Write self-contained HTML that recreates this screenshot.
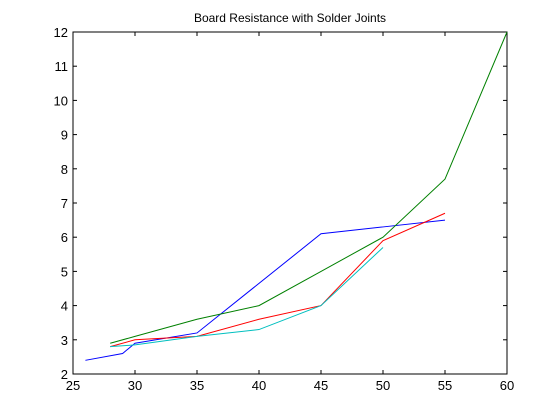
<!DOCTYPE html>
<html><head><meta charset="utf-8"><style>
body{margin:0;background:#fff;width:560px;height:420px;overflow:hidden}
svg{display:block;font-family:"Liberation Sans",Arial,sans-serif}
</style></head><body>
<svg id="chart" width="560" height="420">
<rect width="560" height="420" fill="#fff"/>
<text x="290" y="22" text-anchor="middle" font-size="12">Board Resistance with Solder Joints</text>
<rect x="73" y="32" width="434" height="342" fill="#fff" stroke="#000" stroke-width="1"/>
<g id="axes"></g><g id="series"></g>
</svg>
<script>
const xTicks=[25,30,35,40,45,50,55,60];
const yTicks=[2,3,4,5,6,7,8,9,10,11,12];
const blueX=[26,29,30,35,45,50,55];
const blueY=[2.4,2.6,2.9,3.2,6.1,6.3,6.5];
const redX=[28,30,35,40,45,50,55];
const redY=[2.8,3.0,3.1,3.6,4.0,5.9,6.7];
const cyanX=[28,30,35,40,45,50];
const cyanY=[2.8,2.85,3.1,3.3,4.0,5.7];
const greenX=[28,30,35,40,45,50,55,60];
const greenY=[2.9,3.1,3.6,4.0,5.0,6.0,7.7,12];
const NS="http://www.w3.org/2000/svg";
const L=73,R=507,T=32,B=374;
function sx(v){return L+(v-25)/(60-25)*(R-L);}
function sy(v){return B-(v-2)/(12-2)*(B-T);}
const ax=document.getElementById('axes');
function mk(tag,attrs,parent){const e=document.createElementNS(NS,tag);for(const k in attrs)e.setAttribute(k,attrs[k]);parent.appendChild(e);return e;}
xTicks.forEach(v=>{
 const x=sx(v);
 const t1=mk('line',{x1:x,y1:B,x2:x,y2:B-4,stroke:'#000'},ax);
 
 
 mk('line',{x1:x,y1:T,x2:x,y2:T+4,stroke:'#000'},ax);
 const tx=mk('text',{x:x,y:B+16,'text-anchor':'middle','font-size':'13'},ax);
 tx.textContent=v;
 
 
});
yTicks.forEach(v=>{
 const y=sy(v);
 const t1=mk('line',{x1:L,y1:y,x2:L+4,y2:y,stroke:'#000'},ax);
 
 
 mk('line',{x1:R,y1:y,x2:R-4,y2:y,stroke:'#000'},ax);
 const tx=mk('text',{x:L-5,y:y+5,'text-anchor':'end','font-size':'13'},ax);
 tx.textContent=v;
 
 
});
const sg=document.getElementById('series');
[[blueX,blueY,'#0000ff','blue'],[redX,redY,'#ff0000','red'],[cyanX,cyanY,'#00bfbf','cyan'],[greenX,greenY,'#008000','green']].forEach(([xs,ys,c,n])=>{
 const p=mk('polyline',{points:xs.map((x,i)=>sx(x)+','+sy(ys[i])).join(' '),fill:'none',stroke:c,'stroke-width':'1'},sg);
 
 
});
</script>
</body></html>
